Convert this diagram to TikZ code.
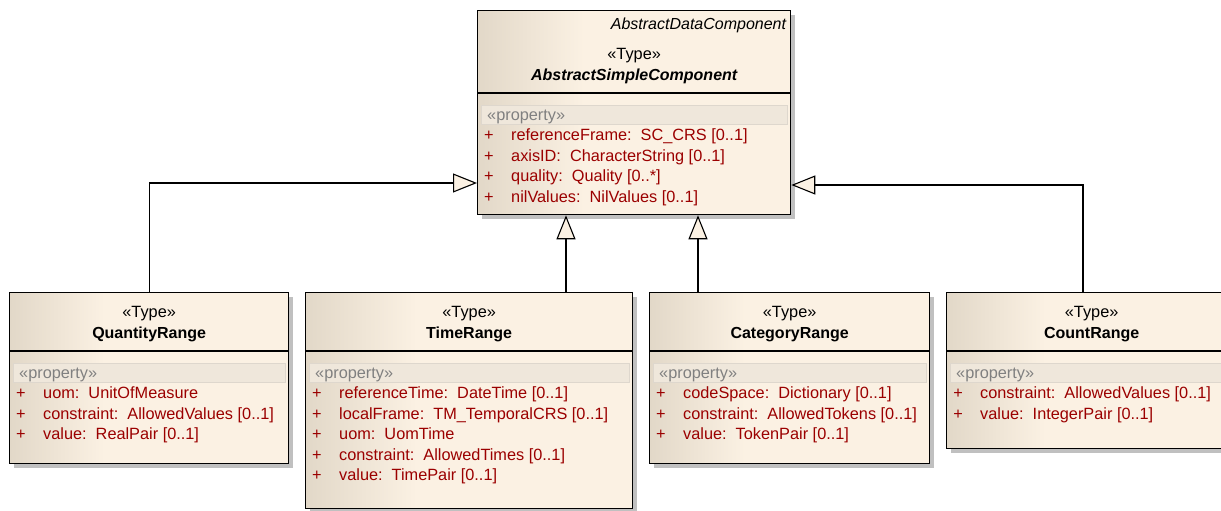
\documentclass[tikz,border=0pt]{standalone}
\usepackage{fontspec}
\setmainfont{Liberation Sans}
\usetikzlibrary{positioning,calc,arrows.meta,shadows}

\definecolor{umlfill}{RGB}{251,241,227}
\definecolor{umldark}{RGB}{226,216,200}
\definecolor{umlband}{RGB}{239,231,219}
\definecolor{umlred}{RGB}{155,0,0}
\definecolor{umlgray}{RGB}{128,128,128}
\definecolor{umlshadow}{RGB}{192,192,192}
\pgfdeclarehorizontalshading{umlshade}{100bp}{color(0bp)=(umldark); color(25bp)=(umldark); color(42bp)=(umlfill); color(100bp)=(umlfill)}

% header of a class box: stereotype, name, divider
\newcommand{\typehead}[3][0]{%
	\node[stereo] (#2-st) at ($(#2.north)+(0,-19-#1)$) {«Type»};
	\node[clsname] (#2-nm) at ($(#2.north)+(0,-40-#1)$) {#3};
	\draw[umlline] ($(#2.north west)+(0,-59-#1)$) -- ($(#2.north east)+(0,-59-#1)$);
}
% property compartment
\newcommand{\proplist}[3][0]{%
	\filldraw[fill=umlband, draw=umlband!85!gray] ($(#2.north west)+(4,-71-#1)$) rectangle ($(#2.north east)+(-4,-90-#1)$);
	\node[proptag] (#2-pt) at ($(#2.north west)+(10,-80-#1)$) {«property»};
	\foreach \ptxt [count=\i] in {#3} {
		\node[attrtxt, anchor=center] (#2-p\i) at ($(#2.north west)+(12,-79.5-20.5*\i-#1)$) {+};
		\node[attrtxt] (#2-a\i) at ($(#2.north west)+(34,-79.5-20.5*\i-#1)$) {\ptxt};
	}
}

\begin{document}
\begin{tikzpicture}[x=1pt, y=1pt,
	every node/.style={font=\fontsize{16.3}{19}\selectfont, inner sep=0pt, text height=14pt, text depth=1pt},
	umlbox/.style={draw=black, line width=1.3pt, shading=umlshade, anchor=north west,
		drop shadow={shadow xshift=4pt, shadow yshift=-4pt, fill=umlshadow, opacity=1}},
	umlline/.style={draw=black, line width=1.3pt},
	stereo/.style={},
	clsname/.style={font=\fontsize{16}{19}\selectfont\bfseries},
	proptag/.style={anchor=west, text=umlgray},
	attrtxt/.style={anchor=west, text=umlred},
	gen/.style={line width=1.1pt, -{Triangle[length=24pt, width=19pt, fill=umlfill]}}]

	\useasboundingbox (0,0) rectangle (1221,-511);

	% the boxes
	\node[umlbox, minimum width=313, minimum height=204] (asc) at (477,-10) {};
	\node[umlbox, minimum width=279, minimum height=171] (qr) at (9,-292) {};
	\node[umlbox, minimum width=327, minimum height=216] (tr) at (305,-292) {};
	\node[umlbox, minimum width=280, minimum height=171] (cr) at (649,-292) {};
	\node[umlbox, minimum width=290, minimum height=156] (cnt) at (946,-292) {};

	% abstract parent
	\node[anchor=east, font=\fontsize{16}{19}\selectfont\itshape] (asc-up) at ($(asc.north east)+(-5,-13)$) {AbstractDataComponent};
	\typehead[24]{asc}{\itshape AbstractSimpleComponent}
	\proplist[24]{asc}{{referenceFrame:\ \ SC\_CRS [0..1]}, {axisID:\ \ CharacterString [0..1]}, {quality:\ \ Quality [0..*]}, {nilValues:\ \ NilValues [0..1]}}

	\typehead{qr}{QuantityRange}
	\proplist{qr}{{uom:\ \ UnitOfMeasure}, {constraint:\ \ AllowedValues [0..1]}, {value:\ \ RealPair [0..1]}}

	\typehead{tr}{TimeRange}
	\proplist{tr}{{referenceTime:\ \ DateTime [0..1]}, {localFrame:\ \ TM\_TemporalCRS [0..1]}, {uom:\ \ UomTime}, {constraint:\ \ AllowedTimes [0..1]}, {value:\ \ TimePair [0..1]}}

	\typehead{cr}{CategoryRange}
	\proplist{cr}{{codeSpace:\ \ Dictionary [0..1]}, {constraint:\ \ AllowedTokens [0..1]}, {value:\ \ TokenPair [0..1]}}

	\typehead{cnt}{CountRange}
	\proplist{cnt}{{constraint:\ \ AllowedValues [0..1]}, {value:\ \ IntegerPair [0..1]}}

	% generalizations
	\coordinate (qr-in) at ($(asc.north west)+(0,-173)$);
	\coordinate (tr-out) at ($(tr.north west)+(261,0)$);
	\coordinate (cr-out) at ($(cr.north west)+(49,0)$);
	\coordinate (cnt-out) at ($(cnt.north west)+(137,0)$);
	\coordinate (cnt-in) at ($(asc.north east)+(0,-175)$);

	\draw[gen] (qr.north) |- (qr-in);
	\draw[gen] (tr-out) -- (tr-out |- asc.south);
	\draw[gen] (cr-out) -- (cr-out |- asc.south);
	\draw[gen] (cnt-out) |- (cnt-in);
\end{tikzpicture}
\end{document}
